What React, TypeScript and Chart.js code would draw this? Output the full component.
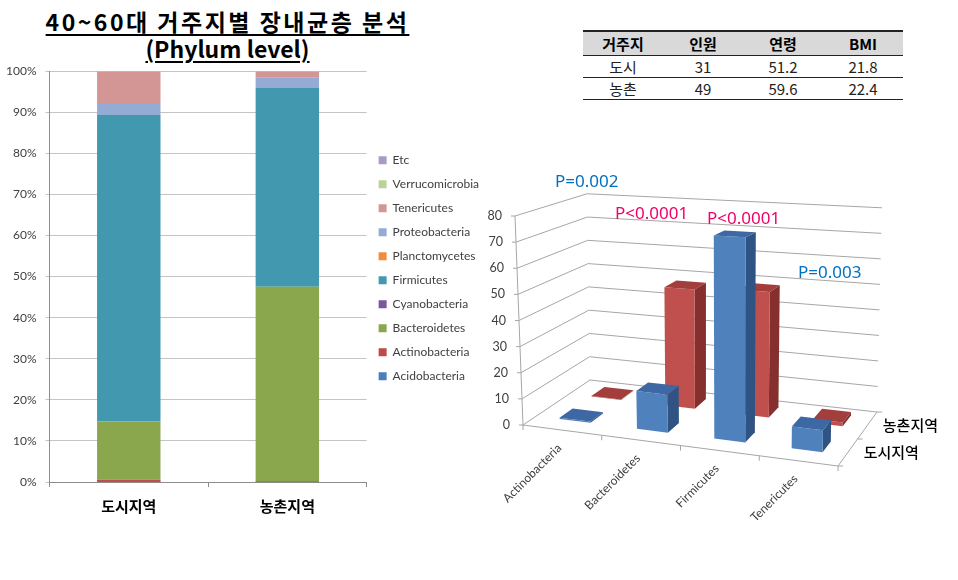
import React, { useEffect, useRef } from "react";
import { Chart, registerables } from "chart.js";

Chart.register(...registerables);

// ---------------- data ----------------
const REGIONS = ["도시지역", "농촌지역"];
const PHYLA = [
  "Acidobacteria",
  "Actinobacteria",
  "Bacteroidetes",
  "Cyanobacteria",
  "Firmicutes",
  "Planctomycetes",
  "Proteobacteria",
  "Tenericutes",
  "Verrucomicrobia",
  "Etc",
];
const URBAN_COMPOSITION = [0.02, 0.5, 14.2, 0.02, 74.6, 0.01, 2.65, 7.8, 0.05, 0.15];
const RURAL_COMPOSITION = [0.01, 0.2, 47.3, 0.01, 48.5, 0.01, 2.5, 1.35, 0.02, 0.1];

const MAIN_PHYLA = ["Actinobacteria", "Bacteroidetes", "Firmicutes", "Tenericutes"];
const URBAN_MAIN = [0.5, 14.2, 74.6, 7.8];
const RURAL_MAIN = [0.2, 47.3, 48.5, 1.35];
const MAIN_TICKS = [0, 10, 20, 30, 40, 50, 60, 70, 80];
const P_VALUES = ["P=0.002", "P<0.0001", "P<0.0001", "P=0.003"];

const TABLE_HEADER = ["거주지", "인원", "연령", "BMI"];
const TABLE_PLACES = ["도시", "농촌"];
const TABLE_COUNTS = ["31", "49"];
const TABLE_AGES = ["51.2", "59.6"];
const TABLE_BMI = ["21.8", "22.4"];

const TITLE_LINE1 = "40~60대 거주지별 장내균층 분석";
const TITLE_LINE2 = "(Phylum level)";

// ---------------- styles ----------------
const PHYLA_COLORS = [
  "#4a7ebb",
  "#be4b48",
  "#8aa74e",
  "#7a58a0",
  "#4298af",
  "#f08c3c",
  "#94abd4",
  "#d49694",
  "#bcd397",
  "#ab9ac4",
];
const FACE_COLORS = [
  { front: "#4f81bd", side: "#2f5383", top: "#3d68a4" },
  { front: "#c0504d", side: "#85302e", top: "#a23e3b" },
];
const SERIES_DEPTH = [
  [0.2, 0.4],
  [0.69, 0.89],
];
const P_COLORS = ["#0070c0", "#f00068", "#f00068", "#0070c0"];
const P_POS = [
  { left: 555, top: 171 },
  { left: 615, top: 203 },
  { left: 707, top: 208 },
  { left: 798, top: 262 },
];
const GRID3D = "#a6a6a6";
const LATO = "Lato, 'Open Sans', sans-serif";
const KR = "'Noto Sans CJK KR', sans-serif";

// perspective geometry of the 3D box (offsets relative to chart area)
const bil = (q: number[], u: number, w: number) =>
  (q[0] * (1 - u) + q[1] * u) * (1 - w) + (q[2] * (1 - u) + q[3] * u) * w;

function makeProjector(chart: any) {
  const a = chart.chartArea;
  const ys = chart.scales.y;
  const FX = [a.left, a.right, a.left + 67, a.right + 39];
  const FY = [a.bottom, a.bottom + 41, a.bottom - 45, a.bottom - 13];
  const K = [1, 1.1165, 0.891, 0.977];
  const LEAN = [-0.0383, 0.019, -0.0144, 0.024];
  return (u: number, w: number, v: number) => {
    const h = a.bottom - ys.getPixelForValue(v);
    return {
      x: bil(FX, u, w) + bil(LEAN, u, w) * h,
      y: bil(FY, u, w) - bil(K, u, w) * h,
    };
  };
}

function poly(ctx: CanvasRenderingContext2D, pts: { x: number; y: number }[], fill: string) {
  ctx.beginPath();
  ctx.moveTo(pts[0].x, pts[0].y);
  for (let i = 1; i < pts.length; i++) ctx.lineTo(pts[i].x, pts[i].y);
  ctx.closePath();
  ctx.fillStyle = fill;
  ctx.fill();
}

const bar3dPlugin = {
  id: "bar3d",
  beforeDatasetsDraw(chart: any) {
    const ctx: CanvasRenderingContext2D = chart.ctx;
    const a = chart.chartArea;
    const xs = chart.scales.x;
    const P = makeProjector(chart);
    const toU = (px: number) => (px - a.left) / (a.right - a.left);
    const line = (pts: { x: number; y: number }[]) => {
      ctx.beginPath();
      ctx.moveTo(pts[0].x, pts[0].y);
      for (let i = 1; i < pts.length; i++) ctx.lineTo(pts[i].x, pts[i].y);
      ctx.stroke();
    };
    ctx.save();
    ctx.lineWidth = 1;
    ctx.strokeStyle = GRID3D;
    // walls grid
    MAIN_TICKS.forEach((v) => {
      line([P(0, 0, v), P(0, 1, v), P(1, 1, v)]);
      const p = P(0, 0, v);
      line([{ x: p.x - 4, y: p.y }, p]);
    });
    // vertical axis
    line([P(0, 0, 0), P(0, 0, MAIN_TICKS[MAIN_TICKS.length - 1])]);
    // floor edges
    line([P(0, 0, 0), P(1, 0, 0), P(1, 1, 0)]);
    for (let k = 0; k <= MAIN_PHYLA.length; k++) {
      const p = P(k / MAIN_PHYLA.length, 0, 0);
      line([p, { x: p.x, y: p.y + 5 }]);
    }
    [0, 0.5, 1].forEach((w) => {
      const p = P(1, w, 0);
      line([p, { x: p.x + 5, y: p.y }]);
    });

    // bars: back row first
    [1, 0].forEach((di) => {
      const meta = chart.getDatasetMeta(di);
      const [w0, w1] = SERIES_DEPTH[di];
      const col = FACE_COLORS[di];
      meta.data.forEach((el: any, j: number) => {
        const v = chart.data.datasets[di].data[j] as number;
        const u0 = toU(el.x - el.width / 2);
        const u1 = toU(el.x + el.width / 2);
        poly(ctx, [P(u1, w0, 0), P(u1, w1, 0), P(u1, w1, v), P(u1, w0, v)], col.side);
        poly(ctx, [P(u0, w0, 0), P(u1, w0, 0), P(u1, w0, v), P(u0, w0, v)], col.front);
        poly(ctx, [P(u0, w0, v), P(u1, w0, v), P(u1, w1, v), P(u0, w1, v)], col.top);
      });
    });

    // y tick labels
    ctx.fillStyle = "#404040";
    ctx.font = `12.5px ${LATO}`;
    ctx.textAlign = "right";
    ctx.textBaseline = "middle";
    MAIN_TICKS.forEach((v) => {
      const p = P(0, 0, v);
      ctx.fillText(String(v), p.x - 13, p.y);
    });
    // category labels
    ctx.font = `12px ${LATO}`;
    MAIN_PHYLA.forEach((name, j) => {
      const uc = toU(xs.getPixelForValue(j));
      const p = P(uc, 0, 0);
      ctx.save();
      ctx.translate(p.x - 3, p.y + 16);
      ctx.rotate(-Math.PI / 4);
      ctx.textAlign = "right";
      ctx.textBaseline = "middle";
      ctx.fillText(name, 0, 0);
      ctx.restore();
    });
    // depth (series) labels
    ctx.fillStyle = "#000000";
    ctx.font = `500 15px ${KR}`;
    ctx.textAlign = "left";
    ctx.textBaseline = "middle";
    REGIONS.forEach((name, di) => {
      const wc = (SERIES_DEPTH[di][0] + SERIES_DEPTH[di][1]) / 2;
      const p = P(1, wc, 0);
      ctx.fillText(name, p.x + 14, p.y + 2);
    });
    ctx.restore();
    return false;
  },
};

function StackedChart() {
  const ref = useRef<HTMLCanvasElement>(null);
  useEffect(() => {
    if (!ref.current) return;
    const chart = new Chart(ref.current, {
      type: "bar",
      data: {
        labels: REGIONS,
        datasets: PHYLA.map((name, i) => ({
          label: name,
          data: [URBAN_COMPOSITION[i], RURAL_COMPOSITION[i]],
          backgroundColor: PHYLA_COLORS[i],
          borderWidth: 0,
          barPercentage: 0.8,
          categoryPercentage: 0.5,
        })),
      },
      options: {
        responsive: false,
        animation: false,
        devicePixelRatio: 1,
        layout: { padding: { left: 4, top: 6, right: 4, bottom: 4 } },
        plugins: {
          legend: {
            position: "right",
            reverse: true,
            fullSize: false,
            align: "start",
            title: { display: true, text: "", font: { size: 10 }, padding: { top: 59, bottom: 0 } },
            labels: {
              boxWidth: 8,
              boxHeight: 8,
              padding: 12,
              color: "#404040",
              font: { family: LATO, size: 12 },
            },
          },
          tooltip: { enabled: false },
        },
        scales: {
          x: {
            stacked: true,
            grid: { display: true, drawOnChartArea: false, tickLength: 5, color: "#8c8c8c" },
            border: { color: "#8c8c8c" },
            ticks: {
              color: "#000000",
              padding: 10,
              font: { family: KR, size: 15, weight: "bold" },
            },
          },
          y: {
            stacked: true,
            min: 0,
            max: 100,
            ticks: {
              stepSize: 10,
              padding: 9,
              color: "#404040",
              font: { family: LATO, size: 12 },
              callback: (v: any) => `${v}%`,
            },
            grid: { color: "#c4c4c4", tickLength: 4 },
            border: { color: "#8c8c8c" },
          },
        },
      } as any,
    });
    return () => chart.destroy();
  }, []);
  return (
    <canvas
      ref={ref}
      width={500}
      height={474}
      style={{ position: "absolute", left: -7, top: 55, width: 500, height: 474 }}
    />
  );
}

function Bar3DChart() {
  const ref = useRef<HTMLCanvasElement>(null);
  useEffect(() => {
    if (!ref.current) return;
    const chart = new Chart(ref.current, {
      type: "bar",
      data: {
        labels: MAIN_PHYLA,
        datasets: [
          {
            label: REGIONS[0],
            data: URBAN_MAIN,
            backgroundColor: FACE_COLORS[0].front,
            grouped: false,
            barPercentage: 0.8,
            categoryPercentage: 0.5,
          },
          {
            label: REGIONS[1],
            data: RURAL_MAIN,
            backgroundColor: FACE_COLORS[1].front,
            grouped: false,
            barPercentage: 0.8,
            categoryPercentage: 0.5,
          },
        ],
      },
      options: {
        responsive: false,
        animation: false,
        devicePixelRatio: 1,
        layout: { padding: { left: 43, right: 112, top: 51, bottom: 110 } },
        plugins: { legend: { display: false }, tooltip: { enabled: false } },
        scales: {
          x: { display: false },
          y: { display: false, min: 0, max: 80 },
        },
      } as any,
      plugins: [bar3dPlugin as any],
    });
    return () => chart.destroy();
  }, []);
  return (
    <canvas
      ref={ref}
      width={470}
      height={370}
      style={{ position: "absolute", left: 480, top: 165, width: 470, height: 370 }}
    />
  );
}

export default function App() {
  const cell: React.CSSProperties = {
    padding: 0,
    textAlign: "center",
    borderBottom: "1px solid #222",
    lineHeight: "21px",
    height: 21,
  };
  const underline: React.CSSProperties = {
    textDecoration: "underline",
    textDecorationThickness: "2px",
    textUnderlineOffset: "3px",
  };
  return (
    <div
      style={{
        position: "absolute",
        left: 0,
        top: 0,
        width: 958,
        height: 580,
        background: "#ffffff",
        overflow: "hidden",
      }}
    >
      <div
        style={{
          position: "absolute",
          left: 0,
          top: 8,
          width: 455,
          textAlign: "center",
          fontFamily: KR,
          fontWeight: 700,
          fontSize: 23,
          lineHeight: "27px",
          color: "#000",
        }}
      >
        <div>
          <span style={{ ...underline, letterSpacing: 2.5 }}>{TITLE_LINE1}</span>
        </div>
        <div>
          <span style={underline}>{TITLE_LINE2}</span>
        </div>
      </div>

      <StackedChart />

      <table
        style={{
          position: "absolute",
          left: 583,
          top: 30,
          width: 320,
          borderCollapse: "collapse",
          tableLayout: "fixed",
          fontFamily: KR,
          fontSize: 15,
          color: "#222",
        }}
      >
        <thead>
          <tr style={{ background: "#d9d9d9" }}>
            {TABLE_HEADER.map((h) => (
              <th
                key={h}
                style={{
                  ...cell,
                  borderTop: "2px solid #222",
                  fontWeight: 700,
                  color: "#000",
                  height: 23,
                  lineHeight: "23px",
                }}
              >
                {h}
              </th>
            ))}
          </tr>
        </thead>
        <tbody>
          {TABLE_PLACES.map((p, i) => (
            <tr key={p}>
              <td style={cell}>{p}</td>
              <td style={cell}>{TABLE_COUNTS[i]}</td>
              <td style={cell}>{TABLE_AGES[i]}</td>
              <td style={cell}>{TABLE_BMI[i]}</td>
            </tr>
          ))}
        </tbody>
      </table>

      <Bar3DChart />

      {P_VALUES.map((t, i) => (
        <div
          key={i}
          style={{
            position: "absolute",
            left: P_POS[i].left,
            top: P_POS[i].top,
            fontFamily: "'Noto Sans', sans-serif",
            fontSize: 17,
            lineHeight: "20px",
            color: P_COLORS[i],
            whiteSpace: "nowrap",
          }}
        >
          {t}
        </div>
      ))}
    </div>
  );
}
